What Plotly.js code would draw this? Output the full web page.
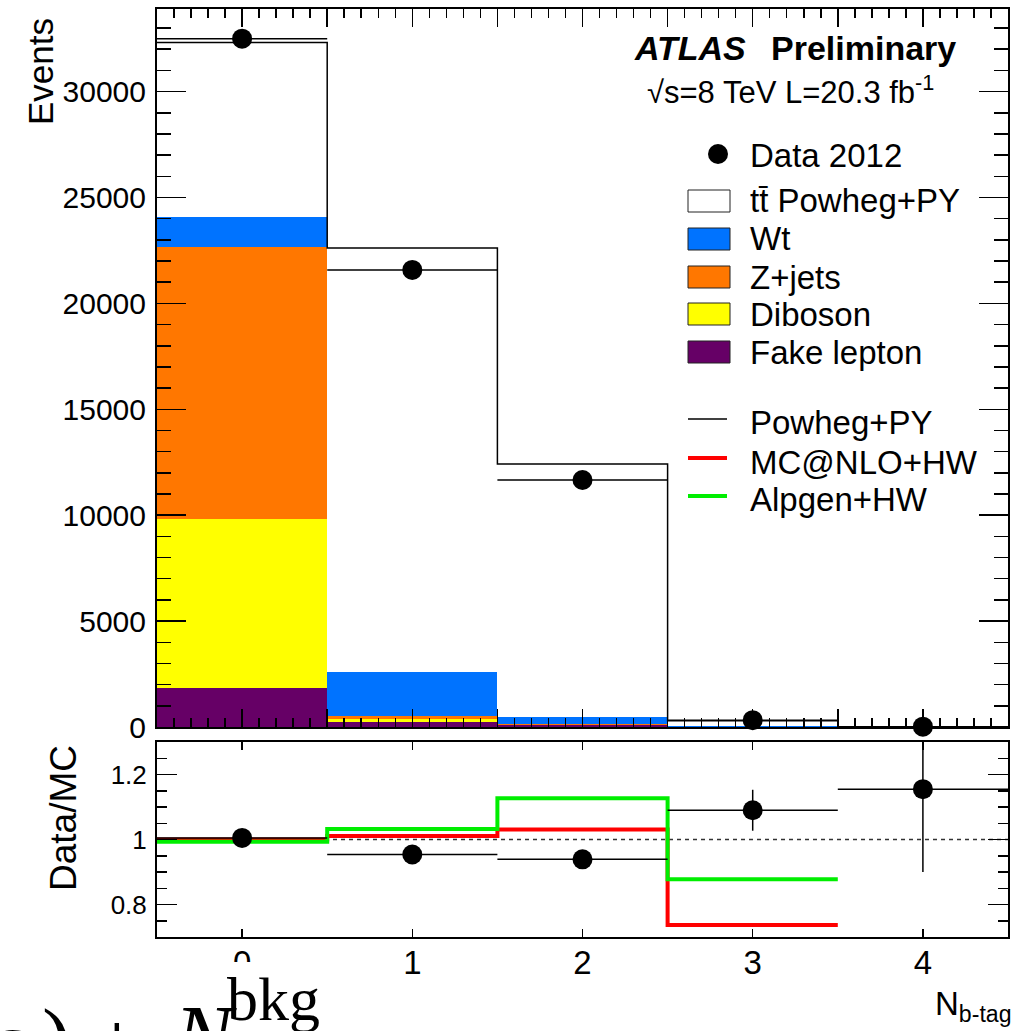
<!DOCTYPE html>
<html>
<head>
<meta charset="utf-8">
<script src="https://cdn.plot.ly/plotly-3.0.1.min.js"></script>
<style>html,body{margin:0;padding:0;background:#fff;}</style>
</head>
<body>
<div id="chart" style="width:1014px;height:1031px;"></div>
<script>
// b-tag multiplicity bins
const nbtag = [0, 1, 2, 3, 4];
const binEdges = [-0.5, 0.5, 1.5, 2.5, 3.5, 4.5];
const xTickLabels = ['0', '1', '2', '3', '4'];

// stacked predictions (events per bin)
const fakeLepton = [1830, 240, 80, 5, 0];
const diboson = [7990, 150, 20, 2, 0];
const zjets = [12830, 130, 25, 3, 0];
const wt = [1430, 2060, 335, 22, 1];
const ttbarPowheg = [8240, 20040, 11960, 264, 12];

// observed events
const data2012 = [32500, 21580, 11660, 322, 15];

// ratio panel
const ratioData = [1.005, 0.954, 0.939, 1.090, 1.155];
const ratioErr = [0.008, 0.009, 0.012, 0.063, 0.255];
const mcatnloRatio = [1.000, 1.011, 1.031, 0.737];
const alpgenRatio = [0.993, 1.032, 1.127, 0.878];

// pixel -> paper helpers for the 1014x1031 canvas
const L = 157, R = 6, T = 9, B = 94, W = 1014, H = 1031;
const PW = W - L - R, PH = H - T - B;
const px = x => (x - L) / PW;
const py = y => (H - B - y) / PH;

const SANS = 'Liberation Sans, Arial, Helvetica, sans-serif';
const SERIF = 'Liberation Serif, Times New Roman, serif';

const total = nbtag.map((_, i) => fakeLepton[i] + diboson[i] + zjets[i] + wt[i] + ttbarPowheg[i]);

function barTrace(name, vals, color) {
  return {
    type: 'bar', name: name, x: nbtag, y: vals, width: 1,
    marker: {color: color, line: {width: 0}},
    xaxis: 'x', yaxis: 'y', hoverinfo: 'name+y'
  };
}

const traces = [
  barTrace('Fake lepton', fakeLepton, '#660066'),
  barTrace('Diboson', diboson, '#ffff00'),
  barTrace('Z+jets', zjets, '#ff7700'),
  barTrace('Wt', wt, '#0073ff'),
  barTrace('tt\u0304 Powheg+PY', ttbarPowheg, '#ffffff'),
  {
    type: 'scatter', mode: 'lines', name: 'Powheg+PY',
    x: binEdges, y: total.concat([total[total.length - 1]]),
    line: {color: '#000', width: 1.5, shape: 'hv'},
    xaxis: 'x', yaxis: 'y'
  },
  {
    type: 'scatter', mode: 'markers', name: 'Data 2012',
    x: nbtag, y: data2012,
    marker: {color: '#000', size: 20},
    error_x: {type: 'constant', value: 0.5, color: '#000', thickness: 1.5, width: 0},
    cliponaxis: false,
    xaxis: 'x', yaxis: 'y'
  },
  {
    type: 'scatter', mode: 'lines', name: 'MC@NLO+HW',
    x: binEdges.slice(0, 5), y: mcatnloRatio.concat([mcatnloRatio[mcatnloRatio.length - 1]]),
    line: {color: '#ff0000', width: 4, shape: 'hv'},
    xaxis: 'x2', yaxis: 'y2'
  },
  {
    type: 'scatter', mode: 'lines', name: 'Alpgen+HW',
    x: binEdges.slice(0, 5), y: alpgenRatio.concat([alpgenRatio[alpgenRatio.length - 1]]),
    line: {color: '#00ee00', width: 4, shape: 'hv'},
    xaxis: 'x2', yaxis: 'y2'
  },
  {
    type: 'scatter', mode: 'markers', name: 'Data/MC',
    x: nbtag, y: ratioData,
    marker: {color: '#000', size: 20},
    error_x: {type: 'constant', value: 0.5, color: '#000', thickness: 1.5, width: 0},
    error_y: {type: 'data', array: ratioErr, color: '#000', thickness: 1.5, width: 0},
    xaxis: 'x2', yaxis: 'y2'
  }
];

const axisBase = {
  showline: true, linecolor: '#000', linewidth: 2, mirror: 'allticks',
  ticks: 'inside', tickcolor: '#000', tickwidth: 1.5,
  showgrid: false, zeroline: false, fixedrange: true
};

const mainBottom = py(727), ratioTop = py(742);

const shapes = [
  // unity reference in the ratio panel
  {type: 'line', xref: 'x2', yref: 'y2', x0: -0.5, x1: 4.5, y0: 1, y1: 1,
   line: {color: '#333', width: 1.5, dash: '4px,4px'}, layer: 'below'},
  // white backing of the formula strip along the lower edge
  {type: 'rect', xref: 'paper', yref: 'paper', x0: px(0), x1: px(330), y0: py(H + 5), y1: py(962),
   fillcolor: '#ffffff', line: {width: 0}, layer: 'above'}
];
const annotations = [];

function text(str, x, y, size, opts) {
  annotations.push(Object.assign({
    text: str, xref: 'paper', yref: 'paper', x: px(x), y: py(y),
    xanchor: 'left', yanchor: 'middle', showarrow: false,
    font: {family: SANS, size: size, color: '#000'}
  }, opts || {}));
}

// legend block
const legX0 = 688, legX1 = 730, legTextX = 748, legSize = 33;
shapes.push({type: 'circle', xref: 'paper', yref: 'paper',
  x0: px(708), x1: px(728), y0: py(164), y1: py(144),
  fillcolor: '#000', line: {width: 0}});
text('Data 2012', legTextX, 155, legSize);

const boxes = [
  ['tt\u0304 Powheg+PY', '#ffffff', 201],
  ['Wt', '#0073ff', 239],
  ['Z+jets', '#ff7700', 277],
  ['Diboson', '#ffff00', 314],
  ['Fake lepton', '#660066', 352]
];
boxes.forEach(([label, color, yc]) => {
  shapes.push({type: 'rect', xref: 'paper', yref: 'paper',
    x0: px(legX0), x1: px(legX1), y0: py(yc + 11), y1: py(yc - 11),
    fillcolor: color, line: {color: '#222', width: 1}});
  text(label, legTextX, yc, legSize);
});

const lines = [
  ['Powheg+PY', '#000', 1.5, 423],
  ['MC@NLO+HW', '#ff0000', 4, 462],
  ['Alpgen+HW', '#00ee00', 4, 500]
];
lines.forEach(([label, color, w, yc]) => {
  shapes.push({type: 'line', xref: 'paper', yref: 'paper',
    x0: px(legX0), x1: px(727), y0: py(yc - 4), y1: py(yc - 4),
    line: {color: color, width: w}});
  text(label, legTextX, yc, legSize);
});

// experiment label
text('<b><i>ATLAS</i></b>', 632, 48, 34);
text('<b>Preliminary</b>', 958, 48, 34, {xanchor: 'right'});
text('\u221As=8 TeV L=20.3 fb<sup>-1</sup>', 645, 90, 31);

// axis titles
text('Events', 40, 72, 35, {xanchor: 'center', textangle: -90});
text('Data/MC', 64, 818, 37, {xanchor: 'center', textangle: -90});
text('N<sub>b-tag</sub>', 1013, 1006, 33, {xanchor: 'right'});

// formula fragment along the lower edge
const serif = (str, x, y, size, italic) => text(str, x, y, size,
  {xanchor: 'center', font: {family: SERIF, size: size, color: '#000', style: italic ? 'italic' : 'normal'}});
serif('\u03B5', 6, 1042, 88, true);
serif(')', 56, 1040, 88, false);
serif('+', 117, 1043, 88, false);
serif('N', 205, 1036, 88, true);
serif('bkg', 273, 999, 62, false);

const layout = {
  width: W, height: H,
  margin: {l: L, r: R, t: T, b: B, pad: 0},
  paper_bgcolor: '#fff', plot_bgcolor: '#fff',
  showlegend: false, barmode: 'stack', bargap: 0,
  font: {family: SANS, color: '#000'},
  xaxis: Object.assign({}, axisBase, {
    anchor: 'y', domain: [0, 1], range: [-0.5, 4.5],
    tick0: 0, dtick: 0.5, ticklen: 18, showticklabels: false,
    minor: {dtick: 0.1, tick0: 0, ticks: 'inside', ticklen: 9, tickcolor: '#000', tickwidth: 1.5, showgrid: false}
  }),
  yaxis: Object.assign({}, axisBase, {
    anchor: 'x', domain: [mainBottom, 1], range: [0, 33900],
    tick0: 0, dtick: 5000, ticklen: 29, tickformat: 'd',
    tickfont: {family: SANS, size: 30, color: '#000'}, ticklabelstandoff: 3,
    minor: {dtick: 1000, ticks: 'inside', ticklen: 14, tickcolor: '#000', tickwidth: 1.5, showgrid: false}
  }),
  xaxis2: Object.assign({}, axisBase, {
    anchor: 'y2', domain: [0, 1], range: [-0.5, 4.5], matches: 'x',
    tickmode: 'array', tickvals: nbtag, ticktext: xTickLabels, ticklen: 8,
    tickfont: {family: SANS, size: 33, color: '#000'}, ticklabelstandoff: -5
  }),
  yaxis2: Object.assign({}, axisBase, {
    anchor: 'x2', domain: [0, ratioTop], range: [0.7, 1.3],
    tickmode: 'array', tickvals: [0.8, 1.0, 1.2], ticktext: ['0.8', '1', '1.2'], ticklen: 20,
    tickfont: {family: SANS, size: 26, color: '#000'}, ticklabelstandoff: 3,
    minor: {tickmode: 'array', tickvals: [0.75, 0.85, 0.9, 0.95, 1.05, 1.1, 1.15, 1.25], ticks: 'inside', ticklen: 10, tickcolor: '#000', tickwidth: 1.5, showgrid: false}
  }),
  shapes: shapes,
  annotations: annotations
};

Plotly.newPlot('chart', traces, layout, {displayModeBar: false, staticPlot: true});
</script>
</body>
</html>
